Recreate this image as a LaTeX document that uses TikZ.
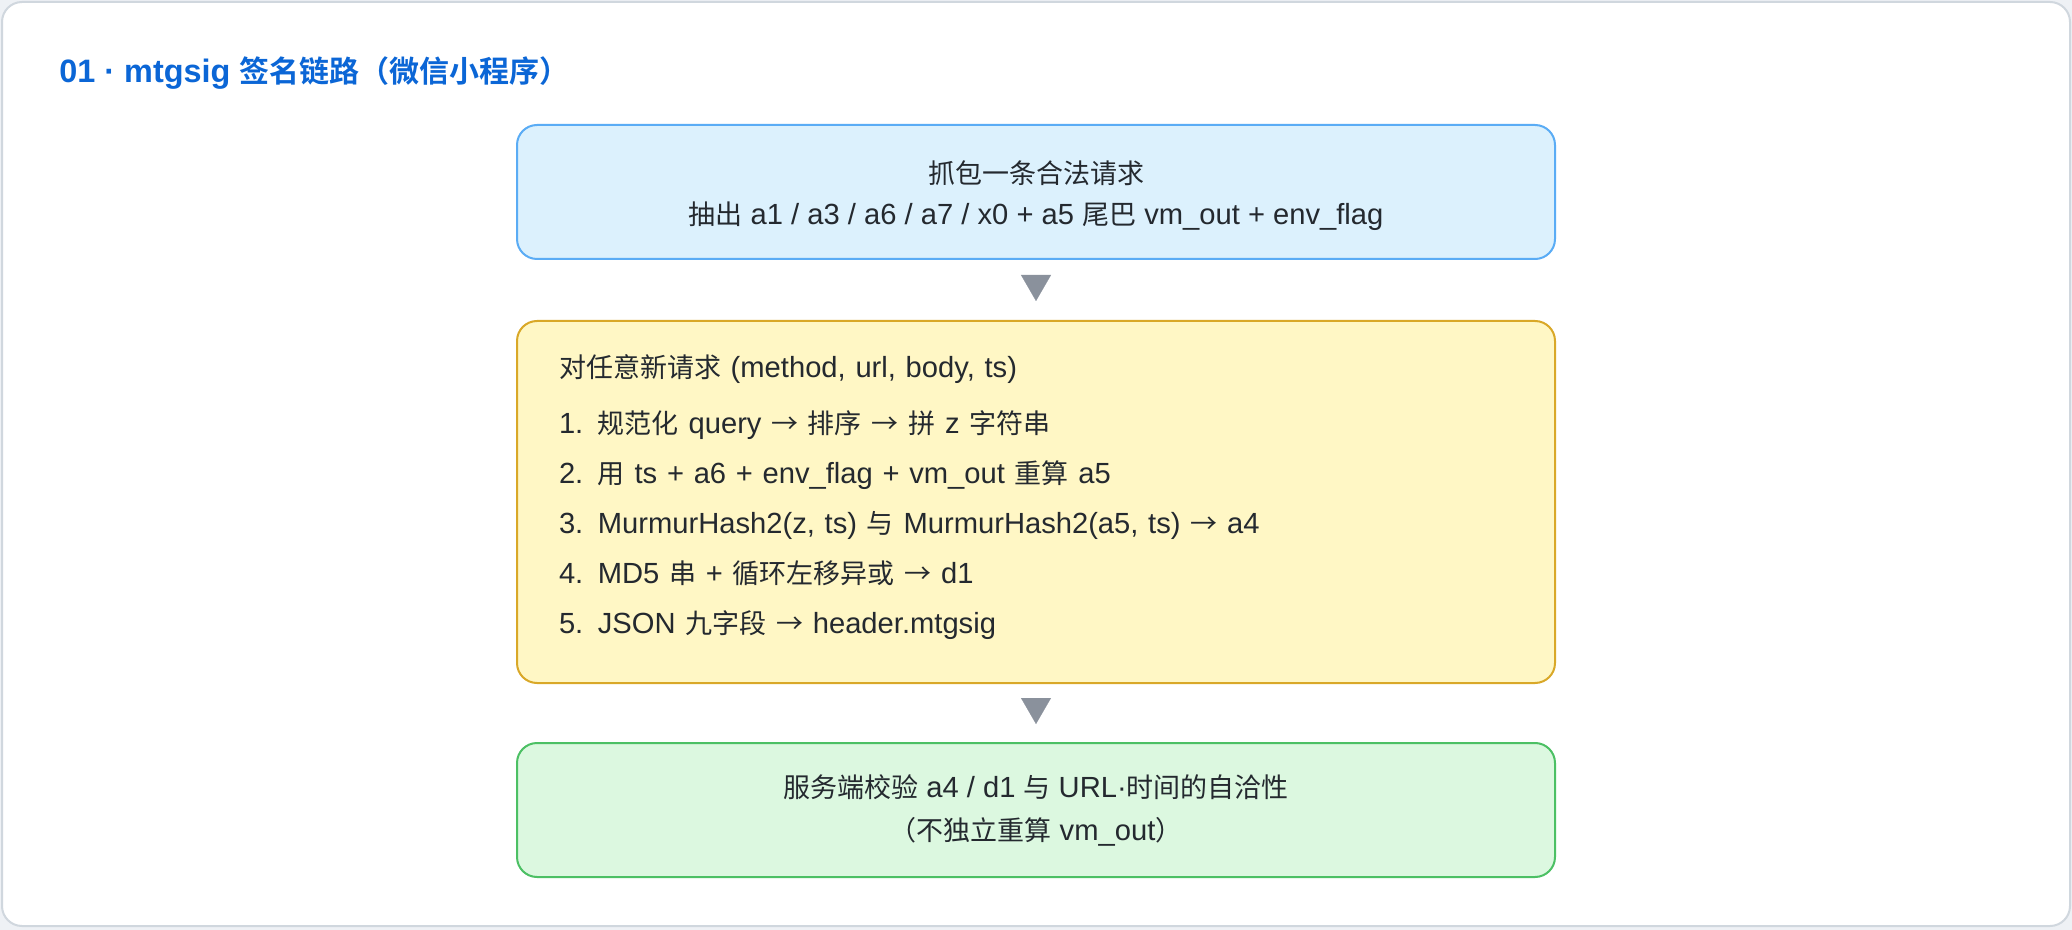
\documentclass[tikz,border=0pt]{standalone}
\usepackage{xcolor}
\usepackage{fontspec}
\setmainfont{Liberation Sans}[Scale=1.08]
\newfontfamily\zh{Noto Sans CJK SC}[BoldFont={Noto Sans CJK SC Bold}]
\newcommand{\toarrow}{{\zh →}}
\usepackage{tikz}
\usetikzlibrary{positioning,arrows.meta}

\definecolor{pagebg}{HTML}{EEF1F5}
\definecolor{cardline}{HTML}{D0D7DE}
\definecolor{titleblue}{HTML}{0B66D6}
\definecolor{ink}{HTML}{24292F}
\definecolor{bluefill}{HTML}{DCF1FD}
\definecolor{blueline}{HTML}{5AACF5}
\definecolor{yellowfill}{HTML}{FFF7C5}
\definecolor{yellowline}{HTML}{D9A828}
\definecolor{greenfill}{HTML}{DCF8E0}
\definecolor{greenline}{HTML}{4CC064}
\definecolor{tipgray}{HTML}{8A919C}

\begin{document}
\begin{tikzpicture}[x=0.5pt, y=-0.5pt,
    stage/.style={draw, line width=1pt, rounded corners=10pt, minimum width=519pt,
        text=ink, font=\fontsize{13.5}{21.5}\selectfont},
    flow/.style={draw=tipgray, fill=tipgray, line width=0.1pt,
        -{Triangle[length=13pt, width=15pt]}, shorten <=8.5pt, shorten >=9.5pt}]
    \useasboundingbox (0, 0) rectangle (2072, 930);

    % Card
    \fill [pagebg] (0, 0) rectangle (2072, 930);
    \draw [cardline, fill=white, line width=1pt, rounded corners=10pt] (2, 2) rectangle (2070, 926);
    \node [anchor=west, inner sep=0pt, text=titleblue, font=\fontsize{15}{18}\selectfont\bfseries] (title) at (59, 73)
        {01 · mtgsig {\zh 签名链路（微信小程序）}};

    % Stages
    \node [stage, fill=bluefill, draw=blueline, minimum height=67pt, align=center,
        font=\fontsize{13.5}{20.5}\selectfont] (capture) at (1036, 192)
        {\rule{0pt}{15pt}{\zh 抓包一条合法请求}\\{\zh 抽出} a1 / a3 / a6 / a7 / x0 + a5 {\zh 尾巴} vm\_out + env\_flag};
    \node [stage, fill=yellowfill, draw=yellowline, minimum height=181pt, text width=477pt,
        inner xsep=21pt, align=left, font=\fontsize{13.5}{25}\selectfont] (compute) at (1036, 502)
        {{\zh 对任意新请求} (method, url, body, ts)\\[3pt]
         1. {\zh 规范化} query \toarrow{} {\zh 排序} \toarrow{} {\zh 拼} z {\zh 字符串}\\
         2. {\zh 用} ts + a6 + env\_flag + vm\_out {\zh 重算} a5\\
         3. MurmurHash2(z, ts) {\zh 与} MurmurHash2(a5, ts) \toarrow{} a4\\
         4. MD5 {\zh 串} + {\zh 循环左移异或} \toarrow{} d1\\
         5. JSON {\zh 九字段} \toarrow{} header.mtgsig\rule[-8pt]{0pt}{8pt}};
    \node [stage, fill=greenfill, draw=greenline, minimum height=67pt, align=center] (check) at (1036, 810)
        {{\zh 服务端校验} a4 / d1 {\zh 与} URL·{\zh 时间的自洽性}\\{\zh （不独立重算} vm\_out{\zh ）}};

    % Arrows
    \draw [flow] (capture) -- (compute);
    \draw [flow, shorten >=9pt] (compute) -- (check);
\end{tikzpicture}
\end{document}
